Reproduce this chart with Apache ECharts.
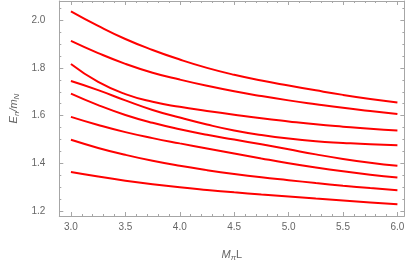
<!DOCTYPE html>
<html>
<head>
<meta charset="utf-8">
<script src="https://cdn.jsdelivr.net/npm/echarts@6/dist/echarts.min.js"></script>
<style>html,body{margin:0;padding:0;background:#fff}#c{width:407px;height:267px}</style>
</head>
<body>
<div id="c"></div>
<script>
const xValues = [3.0, 3.25, 3.5, 3.75, 4.0, 4.25, 4.5, 4.75, 5.0, 5.25, 5.5, 5.75, 6.0];
const level1 = [2.037, 1.976, 1.921, 1.875, 1.835, 1.800, 1.771, 1.747, 1.726, 1.706, 1.687, 1.670, 1.655];
const level2 = [1.913, 1.862, 1.817, 1.780, 1.751, 1.725, 1.702, 1.682, 1.664, 1.648, 1.633, 1.620, 1.607];
const level3 = [1.816, 1.741, 1.690, 1.658, 1.637, 1.620, 1.604, 1.589, 1.576, 1.564, 1.554, 1.545, 1.538];
const level4 = [1.745, 1.707, 1.664, 1.624, 1.592, 1.563, 1.538, 1.519, 1.504, 1.493, 1.486, 1.480, 1.476];
const level5 = [1.692, 1.644, 1.603, 1.570, 1.543, 1.520, 1.500, 1.480, 1.459, 1.438, 1.419, 1.403, 1.390];
const level6 = [1.595, 1.561, 1.531, 1.506, 1.484, 1.463, 1.442, 1.421, 1.401, 1.383, 1.367, 1.353, 1.341];
const level7 = [1.499, 1.465, 1.436, 1.411, 1.390, 1.372, 1.356, 1.342, 1.330, 1.318, 1.307, 1.297, 1.288];
const level8 = [1.364, 1.345, 1.328, 1.313, 1.300, 1.289, 1.279, 1.270, 1.262, 1.253, 1.245, 1.237, 1.229];
const xMajorTicks = [3.0, 3.5, 4.0, 4.5, 5.0, 5.5, 6.0];
const xMinorTicks = [3.1, 3.2, 3.3, 3.4, 3.6, 3.7, 3.8, 3.9, 4.1, 4.2, 4.3, 4.4, 4.6, 4.7, 4.8, 4.9, 5.1, 5.2, 5.3, 5.4, 5.6, 5.7, 5.8, 5.9];
const yMajorTicks = [1.2, 1.4, 1.6, 1.8, 2.0];
const yMinorTicks = [1.25, 1.3, 1.35, 1.45, 1.5, 1.55, 1.65, 1.7, 1.75, 1.85, 1.9, 1.95, 2.05];

const levels = [level1, level2, level3, level4, level5, level6, level7, level8];
const X_MIN = 2.893, X_MAX = 6.064, Y_MIN = 1.18, Y_MAX = 2.08;
const frameColor = '#a6a6a6';
const labelColor = '#666666';
const font = 'Liberation Sans, Arial, sans-serif';

function xAx(pos, ticks, len, showLine, labels, extra) {
  return Object.assign({
    type: 'value', position: pos, min: X_MIN, max: X_MAX,
    splitLine: {show: false},
    axisLine: {show: showLine, onZero: false, lineStyle: {color: frameColor, width: 1}},
    axisTick: {show: true, inside: true, length: len, customValues: ticks, lineStyle: {color: frameColor, width: 1}},
    axisLabel: labels ? {show: true, customValues: ticks, formatter: v => v.toFixed(1), color: labelColor, fontSize: 10, fontFamily: font, margin: 6} : {show: false}
  }, extra || {});
}
function yAx(pos, ticks, len, showLine, labels, extra) {
  return Object.assign({
    type: 'value', position: pos, min: Y_MIN, max: Y_MAX,
    splitLine: {show: false},
    axisLine: {show: showLine, onZero: false, lineStyle: {color: frameColor, width: 1}},
    axisTick: {show: true, inside: true, length: len, customValues: ticks, lineStyle: {color: frameColor, width: 1}},
    axisLabel: labels ? {show: true, customValues: ticks, formatter: v => v.toFixed(1), color: labelColor, fontSize: 10, fontFamily: font, margin: 14} : {show: false}
  }, extra || {});
}

const chart = echarts.init(document.getElementById('c'), null, {renderer: 'canvas'});
chart.setOption({
  animation: false,
  backgroundColor: '#ffffff',
  grid: {left: 41, right: 2, top: 1, bottom: 42, containLabel: false},
  xAxis: [
    xAx('bottom', xMajorTicks, 4, true, true, {
      name: '{i|M}{s|π}{n|L}', nameLocation: 'middle', nameGap: 32,
      nameTextStyle: {color: labelColor, fontFamily: font, fontSize: 11,
        rich: {i: {fontStyle: 'italic', fontSize: 11, color: labelColor, fontFamily: font},
               s: {fontStyle: 'italic', fontSize: 8, color: labelColor, fontFamily: font, verticalAlign: 'bottom', padding: [6, 0, 0, 0]},
               n: {fontSize: 11, color: labelColor, fontFamily: font}}}
    }),
    xAx('bottom', xMinorTicks, 2, false, false),
    xAx('top', xMajorTicks, 4, true, false),
    xAx('top', xMinorTicks, 2, false, false)
  ],
  yAxis: [
    yAx('left', yMajorTicks, 4, true, true, {
      name: '{i|E}{s|n}{i|/m}{s|N}', nameLocation: 'middle', nameGap: 34, nameRotate: 90,
      nameTextStyle: {color: labelColor, fontFamily: font, fontSize: 11,
        rich: {i: {fontStyle: 'italic', fontSize: 11, color: labelColor, fontFamily: font},
               s: {fontStyle: 'italic', fontSize: 8, color: labelColor, fontFamily: font, verticalAlign: 'bottom', padding: [6, 0, 0, 0]}}}
    }),
    yAx('left', yMinorTicks, 2, false, false),
    yAx('right', yMajorTicks, 4, true, false),
    yAx('right', yMinorTicks, 2, false, false)
  ],
  series: levels.map(lv => ({
    type: 'line', xAxisIndex: 0, yAxisIndex: 0,
    data: xValues.map((x, i) => [x, lv[i]]),
    smooth: 0.5, showSymbol: false, symbol: 'none',
    lineStyle: {color: '#ff0000', width: 2},
    silent: true
  }))
});
</script>
</body>
</html>
